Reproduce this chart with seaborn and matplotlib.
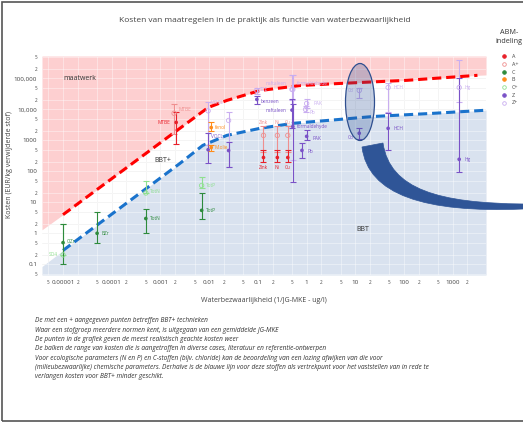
import numpy as np
import pandas as pd
import matplotlib
matplotlib.use("Agg")
import matplotlib.pyplot as plt
import seaborn as sns
from matplotlib.lines import Line2D
from matplotlib.patches import Ellipse, PathPatch, Rectangle
from matplotlib.path import Path

sns.set_style("white")
plt.rcParams['font.family'] = ['Open Sans', 'DejaVu Sans']

# --- data ---
stof = ['SO4', 'ClZr', 'BZr', 'TotN', 'TotN', 'TotP', 'TotP',
        'MTBE', 'MTBE', 'VOCL', 'VOCL', 'fenol', 'M.olie', '', '',
        'TCE', 'benzeen',
        'Zink', 'Ni', 'Cu', 'Zink', 'Ni', 'Cu',
        'naftaleen', 'formaldehyde', 'naftaleen', 'formaldehyde',
        'PAK', 'Pb', 'PAK', 'Pb',
        'Cd', 'Cd', 'HCH', 'HCH', 'Hg', 'Hg']
groep = ['C+', 'C', 'C', 'C+', 'C', 'C+', 'C',
         'A+', 'A', 'Z+', 'Z', 'B', 'B', 'Z+', 'Z',
         'Z+', 'Z',
         'A+', 'A+', 'A+', 'A', 'A', 'A',
         'Z+', 'Z+', 'Z', 'Z',
         'Z+', 'Z+', 'Z', 'Z',
         'Z+', 'Z', 'Z+', 'Z', 'Z+', 'Z']
bezwaar = [1e-5, 1e-5, 5e-5, 5e-4, 5e-4, 0.007, 0.007,
           0.0019, 0.0021, 0.0095, 0.0095, 0.011, 0.011, 0.025, 0.025,
           0.095, 0.095,
           0.13, 0.25, 0.41, 0.13, 0.25, 0.41,
           0.5, 0.52, 0.5, 0.52,
           1.0, 0.95, 1.0, 0.8,
           12, 12, 47, 47, 1350, 1350]
kosten = [0.2, 0.5, 1, 20, 3, 35, 5.5,
          7500, 3800, 9000, 500, 2600, 590, 4400, 470,
          41000, 21000,
          1450, 1450, 1450, 280, 280, 280,
          44000, 44000, 9500, 2800,
          15500, 10000, 1350, 475,
          41000, 1700, 51000, 2450, 51000, 245]
k_min = [0.2, 0.1, 0.5, 20, 1, 28, 2.8,
         1550, 750, 700, 180, 1950, 445, 135, 135,
         32000, 15000,
         410, 410, 410, 195, 195, 195,
         20000, 230, 2500, 44,
         11000, 8000, 1000, 280,
         23000, 1100, 8000, 480, 18000, 93]
k_max = [2, 2, 5, 50, 6, 65, 20,
         15500, 8000, 17000, 1700, 3800, 690, 8000, 900,
         50000, 27000,
         3000, 3000, 3000, 475, 475, 475,
         126000, 126000, 22000, 15000,
         21000, 12500, 2100, 800,
         50000, 2600, 70000, 7400, 380000, 100000]

# boundary curves (red = BBT+/maatwerk, blue = BBT/BBT+)
rood_x = [1e-5, 0.0025, 0.0095, 0.023, 0.11, 0.74, 4.9, 115, 3200]
rood_y = [4, 2450, 11500, 19500, 40700, 59000, 69000, 87000, 126000]
blauw_x = [1e-5, 0.0025, 0.0074, 0.023, 0.11, 0.52, 3.0, 23, 350, 4200]
blauw_y = [0.28, 180, 690, 1450, 2450, 3550, 4470, 5900, 7400, 9300]

df = pd.DataFrame({'stof': stof, 'groep': groep, 'x': bezwaar, 'y': kosten,
                   'lo': k_min, 'hi': k_max})

kleur = {'A': '#e8202a', 'A+': '#ef8f8f', 'C': '#2e8b3c', 'B': '#ff8c1a',
         'C+': '#8fe08f', 'Z': '#7a52c7', 'Z+': '#c9aef0'}
open_groep = ['A+', 'C+', 'Z+']

# label placement (offset in points, alignment) per row
lab_off = [(-4, 0, 'right'), (3, 1, 'left'), (3, 0, 'left'), (3, 1, 'left'), (3, 0, 'left'),
           (3, 0, 'left'), (3, 0, 'left'),
           (3, 3, 'left'), (-4, 0, 'right'), (2, 5.8, 'left'), (2, 9.4, 'left'),
           (2.5, 0, 'left'), (2.5, 0, 'left'), None, None,
           (2, 0.5, 'left'), (3, -1.5, 'left'),
           (0, 9.4, 'center'), (0, 9.4, 'center'), (0, 9.4, 'center'),
           (0, -7.2, 'center'), (0, -7.2, 'center'), (0, -7.2, 'center'),
           (-4, 4.5, 'right'), (3, 4.5, 'left'), (-4, 0, 'right'), (3, 0, 'left'),
           (5, 0, 'left'), (3, -2.5, 'left'), (4, -1.5, 'left'), (4, -1, 'left'),
           (-4, 0, 'right'), (-4, -3, 'right'), (4, 0, 'left'), (4, 0, 'left'),
           (4, 0, 'left'), (4, 0, 'left')]

xmin, xmax = 3.7e-6, 4800
ymin, ymax = 0.045, 5.3e5

fig = plt.figure(figsize=(5.23, 4.24), dpi=100)
ax = fig.add_axes([0.0803, 0.3514, 0.849, 0.5165])
ax.set_xscale('log')
ax.set_yscale('log')
ax.set_xlim(xmin, xmax)
ax.set_ylim(ymin, ymax)

# regions
rx = [xmin] + rood_x + [xmax]
ry = [1.3] + rood_y + [130000]
ax.fill_between(rx, ry, ymax, color='#fdcfd0', lw=0, zorder=1)
bx = [xmin] + blauw_x + [xmax]
by = [0.085] + blauw_y + [9600]
ax.fill_between(bx, ymin, by, color='#d9e2ef', lw=0, zorder=1)

ax.plot(rood_x, rood_y, color='#ff0000', lw=2.2, ls=(0, (3, 1.6)), zorder=2)
ax.plot(blauw_x, blauw_y, color='#1a73cc', lw=2.2, ls=(0, (3, 1.6)), zorder=2)

# error bars
for i, r in df.iterrows():
    ax.errorbar(r['x'], r['y'], yerr=[[r['y'] - r['lo']], [r['hi'] - r['y']]],
                fmt='none', ecolor=kleur[r['groep']], elinewidth=0.8,
                capsize=2.5, capthick=0.8, zorder=3)

vol = df[~df['groep'].isin(open_groep)]
sns.scatterplot(data=vol, x='x', y='y', hue='groep', palette=kleur, s=7,
                linewidth=0, legend=False, ax=ax, zorder=4)
leeg = df[df['groep'].isin(open_groep)]
ax.scatter(leeg['x'], leeg['y'], s=10, facecolors='none',
           edgecolors=[kleur[g] for g in leeg['groep']], linewidths=0.6, zorder=4)

for i, r in df.iterrows():
    if lab_off[i] is None or r['stof'] == '':
        continue
    dx, dy, ha = lab_off[i]
    ax.annotate(r['stof'], (r['x'], r['y']), xytext=(dx, dy),
                textcoords='offset points', fontsize=3.4, va='center', ha=ha,
                color=kleur[r['groep']], zorder=5)

ax.text(1e-5, 1e5, 'maatwerk', fontsize=5, va='center', color='#333')
ax.text(7.4e-4, 225, 'BBT+', fontsize=5, va='center', color='#333')
ax.text(10.5, 1.35, 'BBT', fontsize=5, va='center', color='#333')

# ticks like plotly log axis
xmaj = [10.0 ** k for k in range(-5, 4)]
xmaj_lab = ['0.00001', '0.0001', '0.001', '0.01', '0.1', '1', '10', '100', '1000']
xmin_t = [m * 10.0 ** k for k in range(-6, 4) for m in (2, 5)]
xmin_t = [v for v in xmin_t if xmin <= v <= xmax]
ymaj = [10.0 ** k for k in range(-1, 6)]
ymaj_lab = ['0.1', '1', '10', '100', '1000', '10,000', '100,000']
ymin_t = [m * 10.0 ** k for k in range(-2, 6) for m in (2, 5)]
ymin_t = [v for v in ymin_t if ymin <= v <= ymax]

ax.set_xticks(xmaj)
ax.set_xticklabels(xmaj_lab, fontsize=4.5, color='#444')
ax.set_xticks(xmin_t, minor=True)
ax.set_xticklabels([str(int(round(v / 10 ** np.floor(np.log10(v))))) for v in xmin_t],
                   minor=True, fontsize=3.3, color='#444')
ax.set_yticks(ymaj)
ax.set_yticklabels(ymaj_lab, fontsize=4.5, color='#444')
ax.set_yticks(ymin_t, minor=True)
ax.set_yticklabels([str(int(round(v / 10 ** np.floor(np.log10(v))))) for v in ymin_t],
                   minor=True, fontsize=3.3, color='#444')
ax.tick_params(which='both', length=2, width=0.5, color='#444', pad=1.5)
# grey grid below the regions, pale grid above them
ax.grid(which='both', color='#e8e8e8', lw=0.5, zorder=0)
ax.set_axisbelow(True)
for v in xmaj + xmin_t:
    ax.axvline(v, color='white', lw=0.5, alpha=0.55, zorder=1.5)
for v in ymaj + ymin_t:
    ax.axhline(v, color='white', lw=0.5, alpha=0.55, zorder=1.5)
for s in ax.spines.values():
    s.set_visible(False)
ax.set_xlabel('')
ax.set_ylabel('')

fig.text(0.507, 1 - 20 / 424, 'Kosten van maatregelen in de praktijk als functie van waterbezwaarlijkheid',
         ha='center', va='center', fontsize=6.0, color='#444')
fig.text(0.505, 1 - 300 / 424, 'Waterbezwaarlijkheid (1/JG-MKE - ug/l)',
         ha='center', va='center', fontsize=5.0, color='#444')
fig.text(10 / 523, 1 - 164 / 424, 'Kosten (EUR/kg verwijderde stof)', rotation=90,
         ha='center', va='center', fontsize=5.0, color='#444')

# legend
fig.text(509 / 523, 1 - 37 / 424, 'ABM-\nindeling', ha='center', va='center',
         fontsize=5.2, color='#333', linespacing=1.4)
volgorde = ['A', 'A+', 'C', 'B', 'C+', 'Z', 'Z+']
handles = [Line2D([], [], ls='', marker='o', markersize=2.6,
                  markerfacecolor='none' if g in open_groep else kleur[g],
                  markeredgecolor=kleur[g], markeredgewidth=0.6) for g in volgorde]
fig.legend(handles, volgorde, loc='upper left', bbox_to_anchor=(500 / 523, 1 - 52 / 424),
           frameon=False, fontsize=3.9, handletextpad=1.0, labelspacing=0.5,
           handlelength=0.8, borderaxespad=0, labelcolor='#444')

# highlighted ellipse and curved arrow
fig.patches.append(Ellipse((360 / 523, 1 - 102 / 424), 29 / 523, 77 / 424,
                           transform=fig.transFigure, facecolor='#2f5597', alpha=0.28,
                           edgecolor='none'))
fig.patches.append(Ellipse((360 / 523, 1 - 102 / 424), 29 / 523, 77 / 424,
                           transform=fig.transFigure, facecolor='none',
                           edgecolor='#2f4f8f', lw=0.9))
boog_pts = [(362, 147), (368, 195), (425, 213), (523, 209), (523, 204),
            (440, 203), (390, 190), (383, 143), (362, 147)]
boog_codes = [Path.MOVETO, Path.CURVE4, Path.CURVE4, Path.CURVE4, Path.LINETO,
              Path.CURVE4, Path.CURVE4, Path.CURVE4, Path.CLOSEPOLY]
boog = Path([(px / 523, 1 - py / 424) for px, py in boog_pts], boog_codes)
fig.patches.append(PathPatch(boog, transform=fig.transFigure, facecolor='#2f5597',
                             edgecolor='#2f5597', lw=0.5))

# footnote
noten = ['De met een + aangegeven punten betreffen BBT+ technieken',
         'Waar een stofgroep meerdere normen kent, is uitgegaan van een gemiddelde JG-MKE',
         'De punten in de grafiek geven de meest realistisch geachte kosten weer',
         'De balken de range van kosten die is aangetroffen in diverse cases, literatuur en referentie-ontwerpen',
         'Voor ecologische parameters (N en P) en C-stoffen (bijv. chloride) kan de beoordeling van een lozing afwijken van die voor',
         '(milieubezwaarlijke) chemische parameters. Derhalve is de blauwe lijn voor deze stoffen als vertrekpunt voor het vaststellen van in rede te',
         'verlangen kosten voor BBT+ minder geschikt.']
for k, t in enumerate(noten):
    fig.text(35 / 523, 1 - (321 + 9.3 * k) / 424, t, fontsize=4.7, style='italic',
             color='#333', va='center')

# page frame
fig.patches.append(Rectangle((0.004, 0.006), 1.2, 0.99, transform=fig.transFigure,
                             fill=False, edgecolor='#555', lw=1.2))

fig.savefig('out.png', dpi=100)
